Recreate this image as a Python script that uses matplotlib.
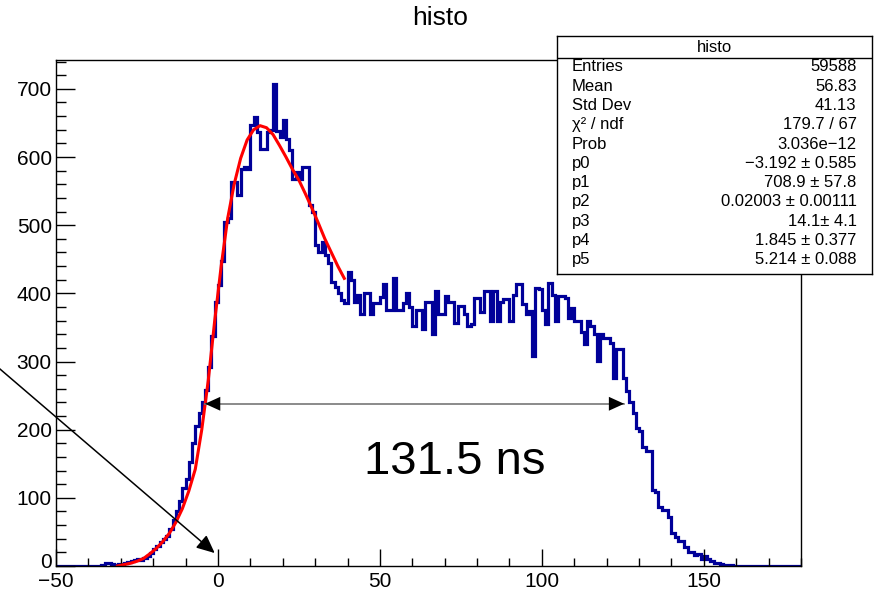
import numpy as np
import matplotlib
matplotlib.use("Agg")
import matplotlib.pyplot as plt
from matplotlib.transforms import ScaledTranslation

plt.rcParams['font.family'] = ['Liberation Sans', 'DejaVu Sans']

# histogram: 1 ns bins from -50 to 180, counts
x_min, x_max = -50, 180
first_bin = -36
counts_nonzero = [
    2, 4, 4, 3, 2, 3, 2, 4, 6, 8, 9, 10, 9, 12, 15, 19, 25, 30, 35, 40,          # -36 .. -17
    44, 55, 68, 80, 96, 114, 128, 152, 180, 205, 224, 240, 258, 292, 338, 388,  # -16 .. -1
    412, 448, 505, 510, 563, 563, 545, 582, 585, 582,                            # 0 .. 9
    647, 658, 636, 612, 612, 636, 640, 707, 638, 630,                            # 10 .. 19
    655, 627, 610, 568, 578, 568, 585, 585, 530, 520,                            # 20 .. 29
    471, 461, 476, 457, 444, 417, 410, 400, 390, 386,                            # 30 .. 39
    432, 420, 388, 398, 369, 400, 400, 369, 386, 386,                            # 40 .. 49
    395, 414, 376, 376, 422, 376, 376, 386, 400, 380,                            # 50 .. 59
    352, 376, 376, 347, 388, 388, 340, 403, 369, 369,                            # 60 .. 69
    396, 388, 388, 356, 381, 381, 369, 352, 355, 393,                            # 70 .. 79
    393, 372, 403, 403, 360, 403, 359, 388, 391, 391,                            # 80 .. 89
    359, 398, 414, 413, 384, 369, 374, 308, 408, 407,                            # 90 .. 99
    376, 355, 415, 398, 359, 396, 396, 393, 364, 378,                            # 100 .. 109
    359, 360, 344, 325, 359, 352, 340, 301, 340, 335,                            # 110 .. 119
    335, 327, 276, 318, 318, 276, 257, 240, 225, 203,                            # 120 .. 129
    198, 174, 169, 169, 111, 109, 87, 82, 82, 72,                                # 130 .. 139
    48, 43, 36, 36, 28, 21, 21, 16, 17, 10,                                      # 140 .. 149
    14, 10, 8, 5, 5, 3, 2, 2, 1,                                                 # 150 .. 158
]

# fitted curve, points
fit_x = [-31, -29, -27, -25, -23, -21, -19, -17, -15, -13, -11, -9, -7, -5, -3, -1,
         1, 3, 5, 7, 9, 11, 13, 15, 17, 19, 21, 23, 25, 27, 29, 31, 33, 35, 37, 39]
fit_y = [0, 2, 4, 7, 11, 18, 26, 36, 48, 64, 84, 110, 142, 200, 272, 360,
         440, 510, 560, 598, 625, 640, 646, 643, 633, 617, 600, 582, 566, 546, 525, 503,
         480, 460, 440, 422]

# FWHM marker
fwhm_left, fwhm_right, fwhm_level = -4.0, 125.4, 238
fwhm_text = "131.5 ns"
pointer_start = (-70, 300)
pointer_end = (-1, 19)

stat_labels = ["Entries", "Mean", "Std Dev", "χ² / ndf", "Prob",
               "p0", "p1", "p2", "p3", "p4", "p5"]
stat_values = ["59588", "56.83", "41.13", "179.7 / 67", "3.036e−12",
               "−3.192 ± 0.585", "708.9 ± 57.8", "0.02003 ± 0.00111",
               "14.1± 4.1", "1.845 ± 0.377", "5.214 ± 0.088"]

edges = np.arange(x_min, x_max + 1)
counts = np.zeros(len(edges) - 1)
start = first_bin - x_min
counts[start:start + len(counts_nonzero)] = counts_nonzero

fig = plt.figure(figsize=(8.77, 5.91), dpi=100)
ax = fig.add_axes([56 / 877, 25 / 591, 745 / 877, 506 / 591])

ax.stairs(counts, edges, color='#000099', linewidth=2.3)
ax.plot(fit_x, fit_y, color='red', linewidth=2.2)

ax.set_xlim(x_min, x_max)
ax.set_ylim(0, 1.05 * counts.max())

ax.set_xticks([-50, 0, 50, 100, 150])
ax.set_xticks(np.arange(-50, 181, 10), minor=True)
ax.set_yticks(np.arange(0, 701, 100))
ax.set_yticks(np.arange(0, 741, 20), minor=True)
ax.tick_params(axis='both', which='both', direction='in', labelsize=15, width=1)
ax.tick_params(axis='x', which='major', length=12, pad=4)
ax.tick_params(axis='x', which='minor', length=6)
ax.tick_params(axis='y', which='major', length=14, pad=3)
ax.tick_params(axis='y', which='minor', length=7)
for s in ax.spines.values():
    s.set_linewidth(1.0)

# the "0" on the y axis sits just above the "-50" of the x axis
fig.canvas.draw()
ylab0 = ax.get_yticklabels()[0]
ylab0.set_transform(ylab0.get_transform() + ScaledTranslation(0, 4 / 72, fig.dpi_scale_trans))

# FWHM arrow: grey shaft, black heads
ax.plot([fwhm_left, fwhm_right], [fwhm_level, fwhm_level], color='#777777', linewidth=1.2)
head = dict(arrowstyle='-|>,head_length=0.55,head_width=0.25', color='black',
            mutation_scale=20, shrinkA=0, shrinkB=0, linewidth=0)
ax.annotate("", xy=(fwhm_left, fwhm_level), xytext=(fwhm_left + 6, fwhm_level), arrowprops=head)
ax.annotate("", xy=(fwhm_right, fwhm_level), xytext=(fwhm_right - 6, fwhm_level), arrowprops=head)
ax.text(73, 152, fwhm_text, fontsize=34, ha='center', va='center')

ax.annotate("", xy=pointer_end, xytext=pointer_start, annotation_clip=False,
            arrowprops=dict(arrowstyle='-|>,head_length=0.55,head_width=0.25', color='black',
                            mutation_scale=20, shrinkA=0, shrinkB=0, linewidth=1.1))

fig.text(440 / 877, 1 - 18 / 591, "histo", fontsize=19, ha='center', va='center')

# stats box
sb = fig.add_axes([557 / 877, (591 - 274) / 591, 315 / 877, 238 / 591])
sb.set_xlim(0, 1)
sb.set_ylim(0, 1)
sb.set_xticks([])
sb.set_yticks([])
for s in sb.spines.values():
    s.set_linewidth(1.0)
sb.axhline(0.908, color='black', linewidth=1.0)
sb.text(0.5, 0.952, "histo", fontsize=12, ha='center', va='center')
for i, (lab, val) in enumerate(zip(stat_labels, stat_values)):
    yy = 0.871 - i * 0.0812
    sb.text(0.047, yy, lab, fontsize=12, ha='left', va='center')
    sb.text(0.951, yy, val, fontsize=12, ha='right', va='center')

fig.savefig("out.png", dpi=100)
